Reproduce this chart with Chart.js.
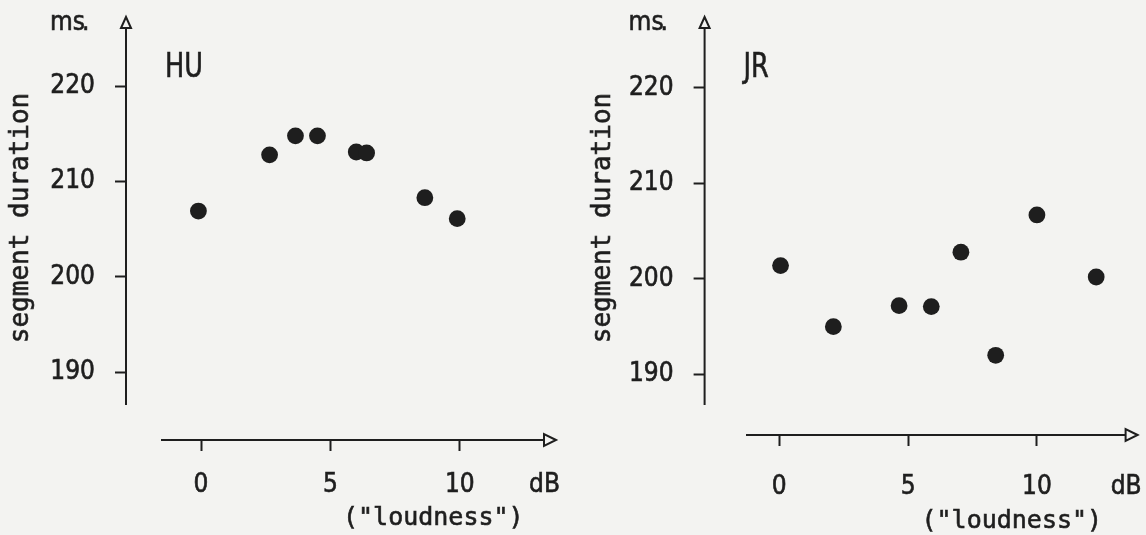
<!DOCTYPE html>
<html>
<head>
<meta charset="utf-8">
<script src="https://cdn.jsdelivr.net/npm/chart.js@4.4.1/dist/chart.umd.min.js"></script>
<style>
  html, body { margin: 0; padding: 0; background: #f3f3f1; }
  .row { display: flex; width: 1146px; height: 535px; }
  canvas { display: block; }
</style>
</head>
<body>
<div class="row">
  <canvas id="huChart" width="573" height="535"></canvas>
  <canvas id="jrChart" width="573" height="535"></canvas>
</div>
<script>
// Segment duration (ms) against loudness increase (dB), two speakers
const huLoudness = [-0.1, 2.65, 3.65, 4.5, 6.0, 6.4, 8.65, 9.9];
const huDuration = [206.9, 212.8, 214.8, 214.8, 213.1, 213.0, 208.3, 206.1];

const jrLoudness = [0.05, 2.1, 4.65, 5.9, 7.05, 8.4, 10.0, 12.3];
const jrDuration = [201.4, 195.0, 197.2, 197.1, 202.8, 192.0, 206.7, 200.2];

const xTicks = [0, 5, 10];
const yTicks = [190, 200, 210, 220];

const ink = '#1e1e1e';
const digitFont = "'DejaVu Sans Condensed', 'DejaVu Sans', sans-serif";
const typeFont = "'DejaVu Sans Mono', monospace";

// fill then stroke thinly so the lettering looks typed rather than printed
function inkText(ctx, txt, x, y) {
  ctx.fillText(txt, x, y);
  ctx.strokeText(txt, x, y);
}

// hand-drawn look: detached axes with open arrowheads and loose labels
const paperAxes = {
  id: 'paperAxes',
  afterDraw(chart, args, o) {
    const { ctx, chartArea: a } = chart;
    ctx.save();
    ctx.strokeStyle = ink;
    ctx.fillStyle = ink;
    ctx.lineWidth = 2;

    // vertical axis with arrow
    ctx.beginPath();
    ctx.moveTo(a.left, a.top);
    ctx.lineTo(a.left, o.yLineEnd);
    ctx.stroke();
    ctx.beginPath();
    ctx.moveTo(a.left, a.top - 11);
    ctx.lineTo(a.left - 5, a.top);
    ctx.lineTo(a.left + 5, a.top);
    ctx.closePath();
    ctx.stroke();

    // horizontal axis with arrow
    ctx.beginPath();
    ctx.moveTo(o.xLineStart, a.bottom);
    ctx.lineTo(a.right - 12, a.bottom);
    ctx.stroke();
    ctx.beginPath();
    ctx.moveTo(a.right, a.bottom);
    ctx.lineTo(a.right - 12, a.bottom - 6);
    ctx.lineTo(a.right - 12, a.bottom + 6);
    ctx.closePath();
    ctx.stroke();

    ctx.lineWidth = 0.6;

    // unit label
    ctx.textBaseline = 'alphabetic';
    ctx.textAlign = 'left';
    ctx.font = '26px ' + digitFont;
    inkText(ctx, 'ms', a.left - 76, 30);
    inkText(ctx, '.', a.left - 44, 30);

    // speaker name, narrowed
    ctx.save();
    ctx.translate(a.left + 39, 77);
    ctx.scale(0.86, 1);
    ctx.font = '33px ' + digitFont;
    inkText(ctx, o.name, 0, 0);
    ctx.restore();

    ctx.font = '26px ' + digitFont;
    ctx.textAlign = 'right';
    ctx.textBaseline = 'middle';
    inkText(ctx, 'dB', a.right + 4, o.tickRow);

    ctx.font = '25px ' + typeFont;
    ctx.textAlign = 'left';
    inkText(ctx, '("loudness")', o.loudX, o.loudY);

    // rotated axis title
    ctx.translate(o.titleX, 218);
    ctx.rotate(-Math.PI / 2);
    ctx.textAlign = 'center';
    ctx.textBaseline = 'alphabetic';
    ctx.font = '26px ' + typeFont;
    inkText(ctx, 'segment duration', 0, 0);
    ctx.restore();
  }
};

function makePanel(id, name, xs, ys, L) {
  const perDb = (L.px10 - L.px0) / 10;
  const perMs = (L.py190 - L.py220) / 30;
  const top = 28;
  const xMin = (L.axisX - L.px0) / perDb;
  const xMax = (L.right - L.px0) / perDb;
  const yMax = 220 + (L.py220 - top) / perMs;
  const yMin = 220 - (L.axisY - L.py220) / perMs;

  const tickText = { color: ink, font: { family: digitFont, size: 26 }, textStrokeColor: ink, textStrokeWidth: 0.6 };

  return new Chart(document.getElementById(id), {
    type: 'scatter',
    data: {
      datasets: [{
        data: xs.map((x, i) => ({ x: x, y: ys[i] })),
        backgroundColor: ink,
        borderColor: ink,
        borderWidth: 0,
        pointRadius: 8.4,
        pointHoverRadius: 8.4
      }]
    },
    options: {
      responsive: false,
      animation: false,
      events: [],
      layout: { padding: { left: 0, top: top, right: 573 - L.right, bottom: 0 } },
      plugins: {
        legend: { display: false },
        tooltip: { enabled: false },
        paperAxes: {
          name: name,
          yLineEnd: 405,
          xLineStart: L.xLineStart,
          tickRow: L.tickRow,
          loudX: L.px0 + 142,
          loudY: L.loudY,
          titleX: L.titleX
        }
      },
      scales: {
        x: {
          type: 'linear',
          min: xMin,
          max: xMax,
          afterBuildTicks: s => { s.ticks = xTicks.map(v => ({ value: v })); },
          afterFit: s => { s.height = 535 - L.axisY; s.paddingLeft = 0; s.paddingRight = 0; },
          border: { display: false },
          grid: { drawOnChartArea: false, drawTicks: true, tickLength: 11, tickWidth: 2, tickColor: ink },
          ticks: Object.assign({ padding: L.tickRow - L.axisY - 11 - 15.6, maxRotation: 0 }, tickText)
        },
        y: {
          type: 'linear',
          min: yMin,
          max: yMax,
          afterBuildTicks: s => { s.ticks = yTicks.map(v => ({ value: v })); },
          afterFit: s => { s.width = L.axisX; s.paddingTop = 0; s.paddingBottom = 0; },
          border: { display: false },
          grid: { drawOnChartArea: false, drawTicks: true, tickLength: 11, tickWidth: 2, tickColor: ink },
          ticks: Object.assign({ padding: 20 }, tickText)
        }
      }
    },
    plugins: [paperAxes]
  });
}

makePanel('huChart', 'HU', huLoudness, huDuration, {
  axisX: 126, axisY: 440, right: 556,
  px0: 201, px10: 459.8, py220: 86.3, py190: 372,
  xLineStart: 161, tickRow: 485, loudY: 518, titleX: 28
});

makePanel('jrChart', 'JR', jrLoudness, jrDuration, {
  axisX: 131.6, axisY: 435, right: 566,
  px0: 206.5, px10: 465, py220: 88, py190: 374.4,
  xLineStart: 173, tickRow: 487, loudY: 521, titleX: 37
});
</script>
</body>
</html>
